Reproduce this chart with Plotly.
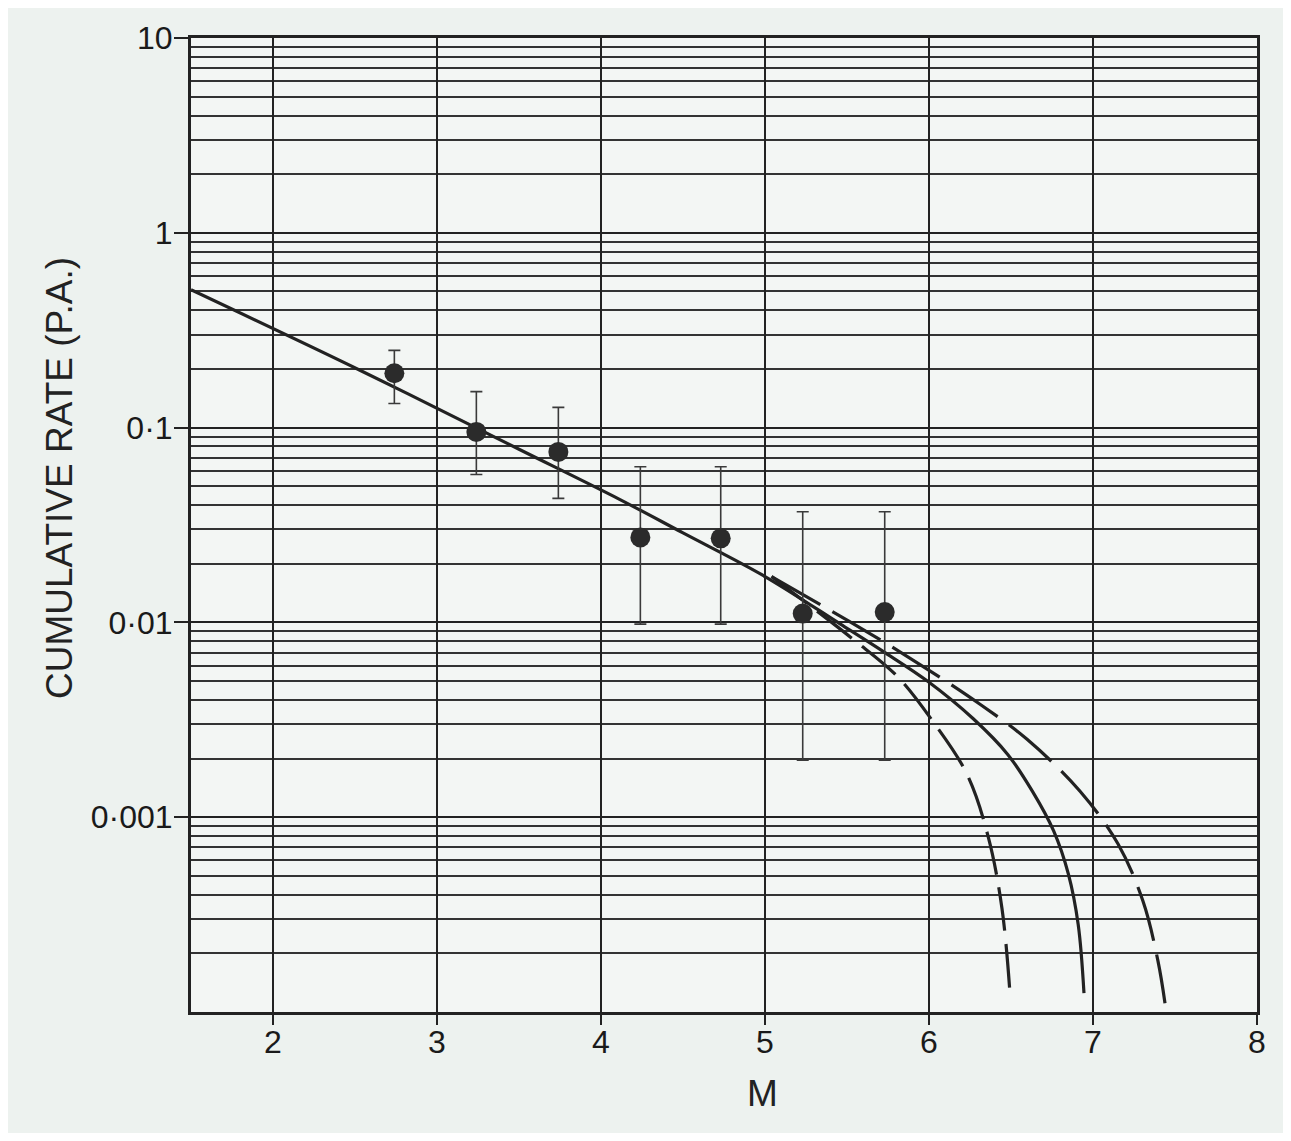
import plotly.graph_objects as go

# ---------------- data ----------------
obs_m = [2.74, 3.24, 3.74, 4.24, 4.73, 5.23, 5.73]
obs_rate = [0.19, 0.095, 0.075, 0.0273, 0.027, 0.0111, 0.0113]
obs_hi = [0.249, 0.153, 0.127, 0.063, 0.063, 0.037, 0.037]
obs_lo = [0.133, 0.0574, 0.0433, 0.0098, 0.0098, 0.00196, 0.00196]

# solid: straight fit continuing into the Mmax = 7.0 curve
solid_m = [1.5, 2.53, 3.5, 4.116, 4.5, 5.0, 5.46, 5.72, 5.99, 6.27, 6.48, 6.63, 6.76, 6.85, 6.91, 6.945]
solid_rate = [0.51, 0.197, 0.0774, 0.0427, 0.0288, 0.0172, 0.0098, 0.0071, 0.0050, 0.0032,
              0.0021, 0.00136, 0.00085, 0.00051, 0.00028, 0.000125]

# dashed: Mmax = 6.5
short_m = [5.04, 5.537, 5.805, 6.024, 6.232, 6.36, 6.445, 6.494]
short_rate = [0.0172, 0.0082, 0.0053, 0.0031, 0.00166, 0.0008, 0.00034, 0.000124]

# dashed: Mmax = 7.5
long_m = [5.04, 5.506, 5.866, 6.311, 6.598, 6.921, 7.152, 7.305, 7.396, 7.439]
long_rate = [0.0172, 0.0102, 0.0067, 0.0038, 0.00251, 0.00136, 0.00073, 0.00037, 0.000183, 0.000111]

x_ticks = [2, 3, 4, 5, 6, 7, 8]
y_ticks = [0.001, 0.01, 0.1, 1, 10]
y_ticktext = ["0·001", "0·01", "0·1", "1", "10"]
decades = [0.0001, 0.001, 0.01, 0.1, 1]

x_title = "M"
y_title = "CUMULATIVE RATE (P.A.)"

# ---------------- styling ----------------
INK = "#222222"
FONT = "Liberation Sans, Arial, sans-serif"

minor_vals = [d * k for d in decades for k in range(2, 10)]

fig = go.Figure()

fig.add_trace(go.Scatter(
    x=solid_m, y=solid_rate, mode="lines", line=dict(color=INK, width=3.2, shape="spline"),
    hoverinfo="skip", showlegend=False))
fig.add_trace(go.Scatter(
    x=short_m, y=short_rate, mode="lines",
    line=dict(color=INK, width=3.2, shape="spline", dash="44px,13px"),
    hoverinfo="skip", showlegend=False))
fig.add_trace(go.Scatter(
    x=long_m, y=long_rate, mode="lines",
    line=dict(color=INK, width=3.2, shape="spline", dash="56px,14px"),
    hoverinfo="skip", showlegend=False))

fig.add_trace(go.Scatter(
    x=obs_m, y=obs_rate, mode="markers",
    marker=dict(size=20, color="#2b2b2b", line=dict(width=0)),
    error_y=dict(type="data", symmetric=False,
                 array=[h - r for h, r in zip(obs_hi, obs_rate)],
                 arrayminus=[r - l for r, l in zip(obs_rate, obs_lo)],
                 color="#3a3a3a", thickness=1.6, width=6),
    showlegend=False))

# page is offset by the 8px body margin; figure fills the rest
W, H = 1275, 1125
L, R, T, B = 183, 26, 30, 121

fig.update_layout(
    width=W, height=H,
    margin=dict(l=L, r=R, t=T, b=B),
    paper_bgcolor="#edf2ef",
    plot_bgcolor="#f3f6f4",
    font=dict(family=FONT, color=INK),
    xaxis=dict(
        range=[1.5, 8], tickmode="array", tickvals=x_ticks,
        ticks="outside", ticklen=10, tickwidth=2, tickcolor=INK,
        tickfont=dict(size=32, color="#1a1a1a", family=FONT),
        ticklabelstandoff=-10,
        showgrid=True, gridcolor=INK, gridwidth=2,
        showline=True, linecolor=INK, linewidth=2.5, mirror=True,
        zeroline=False,
    ),
    yaxis=dict(
        type="log", range=[-4, 1], tickmode="array", tickvals=y_ticks, ticktext=y_ticktext,
        ticks="outside", ticklen=14, tickwidth=2, tickcolor=INK,
        tickfont=dict(size=32, color="#1a1a1a", family=FONT),
        ticklabelstandoff=-5,
        showgrid=True, gridcolor=INK, gridwidth=2,
        minor=dict(tickmode="array", tickvals=minor_vals, showgrid=True,
                   gridcolor="#333333", gridwidth=1.6, ticks=""),
        showline=True, linecolor=INK, linewidth=3, mirror=True,
        zeroline=False,
    ),
    annotations=[
        dict(text=x_title, xref="paper", yref="paper",
             x=(762 - 191) / 1066, y=-(1093 - 1012) / 974,
             xanchor="center", yanchor="middle", showarrow=False,
             font=dict(size=37, color=INK, family=FONT)),
        dict(text=y_title, xref="paper", yref="paper", textangle=-90,
             x=(59 - 191) / 1066, y=(1012 - 478) / 974,
             xanchor="center", yanchor="middle", showarrow=False,
             font=dict(size=37, color=INK, family=FONT)),
    ],
)

fig.write_html("out.html")
